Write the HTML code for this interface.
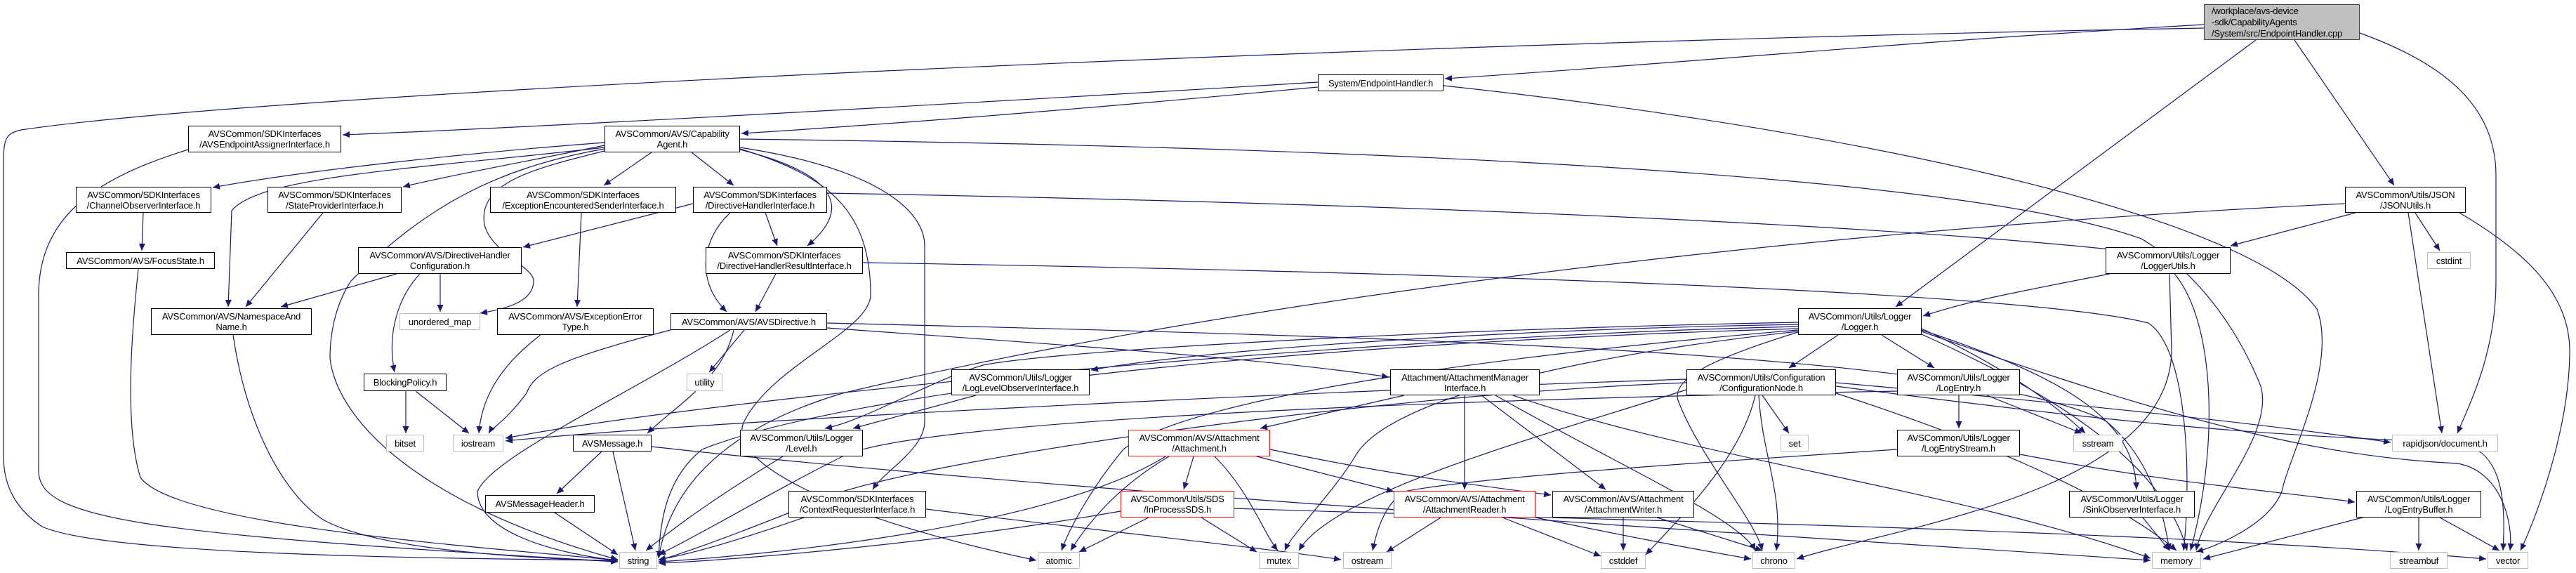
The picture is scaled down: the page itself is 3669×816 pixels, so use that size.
<!DOCTYPE html>
<html><head><meta charset="utf-8">
<style>
html,body{margin:0;padding:0;background:#fff;}
#c{position:relative;width:3669px;height:816px;overflow:hidden;background:#fff;}
svg{position:absolute;left:0;top:0;}
.n{position:absolute;box-sizing:border-box;background:#fff;border:1.4px solid #000;display:flex;align-items:center;justify-content:center;text-align:center;font-family:"Liberation Sans",sans-serif;font-size:13px;line-height:15px;color:#000;white-space:nowrap;letter-spacing:-0.2px;}
.g{border-color:#bfbfbf;}
.r{border-color:#ff0000;}
.m{background:#bfbfbf;border-color:#404040;text-align:left;justify-content:flex-start;padding-left:10px;line-height:16px;}
</style></head><body><div id="c">
<svg width="3669" height="816" viewBox="0 0 3669 816">
<defs><marker id="a" markerUnits="userSpaceOnUse" markerWidth="11" markerHeight="9" refX="10" refY="4.5" orient="auto"><path d="M0,0 L10,4.5 L0,9 z" fill="#191970"/></marker></defs>
<g fill="none" stroke="#191970" stroke-width="1.2" marker-end="url(#a)">
<path d="M3139,35 C2700,60 2400,90 2058,112"/>
<path d="M3139,40 C2000,60 400,130 30,185 C10,190 5,195 5,230 L5,650 C5,700 30,730 60,750 C150,790 600,795 880,798"/>
<path d="M3213,57 L2700,437"/>
<path d="M3268,57 L3410,264"/>
<path d="M3361,47 C3480,90 3555,150 3555,250 L3555,400 C3555,500 3520,570 3500,617"/>
<path d="M1877,117 C1500,140 800,180 488,192"/>
<path d="M1877,124 C1600,150 1300,175 1056,190"/>
<path d="M2056,122 C2600,180 3200,300 3300,440 C3330,520 3260,650 3250,700 C3230,750 3150,780 3128,786"/>
<path d="M268,213 C150,250 55,300 55,420 L55,670 C55,740 200,760 880,800"/>
<path d="M861,203 C700,215 450,240 303,267"/>
<path d="M861,207 C750,230 640,250 574,266"/>
<path d="M928,217 L860,264"/>
<path d="M985,217 L1045,264"/>
<path d="M1054,213 C1200,250 1210,300 1150,350"/>
<path d="M861,210 C600,240 370,250 330,300 L325,437"/>
<path d="M861,212 C700,240 600,300 500,400 C480,430 470,470 470,510 C480,600 600,720 880,797"/>
<path d="M861,215 C760,240 680,260 690,320 C700,360 760,380 760,400 C760,430 720,440 684,446"/>
<path d="M1054,210 C1250,240 1317,300 1317,350 L1317,600 C1317,640 1260,670 1243,697"/>
<path d="M1054,212 C1180,250 1240,300 1240,420 C1240,470 1100,520 1060,600 C1030,660 1200,740 1476,798"/>
<path d="M1054,198 C2000,210 2800,250 3050,340 C3150,400 3200,500 3220,550 C3240,620 3140,720 3128,784"/>
<path d="M987,290 L745,352"/>
<path d="M1090,303 L1107,350"/>
<path d="M1040,303 C1000,340 990,400 1035,444"/>
<path d="M1178,275 C2000,290 2700,320 3050,360 C3150,380 3170,600 3120,784"/>
<path d="M1105,390 L1076,444"/>
<path d="M1229,374 C2200,390 2900,420 3060,460 C3120,500 3120,700 3110,784"/>
<path d="M565,390 L400,437"/>
<path d="M627,390 L627,444"/>
<path d="M598,390 C570,420 550,470 562,530"/>
<path d="M828,303 L822,437"/>
<path d="M460,303 L350,437"/>
<path d="M204,303 L202,357"/>
<path d="M197,383 C190,450 175,600 200,680 C250,750 700,780 880,798"/>
<path d="M332,477 C350,600 400,700 460,740 C550,790 800,795 880,800"/>
<path d="M770,477 C700,530 685,580 682,617"/>
<path d="M578,557 L578,617"/>
<path d="M592,557 L668,617"/>
<path d="M955,470 C800,510 760,530 750,560 C720,600 700,610 696,617"/>
<path d="M1045,470 C1030,540 960,580 922,617"/>
<path d="M1060,470 L1010,530"/>
<path d="M1040,470 C900,560 700,650 680,700 C680,760 800,790 880,798"/>
<path d="M1178,467 C1500,490 1800,510 1978,537"/>
<path d="M1178,460 C2000,480 2800,500 3000,600 C3060,650 3080,720 3090,784"/>
<path d="M857,643 L793,703"/>
<path d="M873,643 L905,784"/>
<path d="M928,636 C1500,700 2500,760 3063,798"/>
<path d="M790,730 L880,790"/>
<path d="M2618,477 L2548,524"/>
<path d="M2680,477 L2755,524"/>
<path d="M2561,462 C2100,470 1700,500 1554,527"/>
<path d="M2561,459 C2000,470 1500,500 1400,520 C1330,540 1230,600 1175,610"/>
<path d="M2561,465 C1900,480 1000,570 720,624"/>
<path d="M2561,468 C1800,490 1200,560 1000,640 C950,680 940,740 938,795"/>
<path d="M2561,470 C2200,500 1700,560 1600,640 C1550,700 1520,760 1512,784"/>
<path d="M2561,472 C2300,500 1980,560 1930,650 C1900,700 1840,760 1830,784"/>
<path d="M2561,473 C2440,510 2380,540 2390,570 C2420,650 2500,740 2510,784"/>
<path d="M2737,468 C2850,520 2920,570 2970,617"/>
<path d="M2737,470 C2950,540 3040,600 3043,697"/>
<path d="M2737,472 C3100,600 3300,650 3500,660 C3560,670 3580,740 3575,784"/>
<path d="M2737,476 C2900,550 3080,650 3115,784"/>
<path d="M3005,390 C2850,420 2800,430 2739,450"/>
<path d="M3090,390 L3093,500 C3090,700 2700,750 2559,796"/>
<path d="M3355,303 L3177,350"/>
<path d="M3440,303 L3475,357"/>
<path d="M3430,303 L3478,617"/>
<path d="M3503,303 C3600,360 3660,420 3660,500 C3660,600 3620,720 3590,784"/>
<path d="M3340,290 C2500,330 1700,440 1200,560 C1000,620 950,720 938,795"/>
<path d="M2510,563 L2548,617"/>
<path d="M2505,563 C2510,650 2540,700 2530,784"/>
<path d="M2500,563 C2480,650 2400,730 2344,790"/>
<path d="M2402,555 C2200,620 1900,700 1850,784"/>
<path d="M2402,545 C2000,560 1400,640 1200,700 C1100,740 1000,780 938,798"/>
<path d="M2402,540 C1800,560 1000,600 720,628"/>
<path d="M2615,560 C2800,620 3000,700 3100,784"/>
<path d="M2615,545 C2900,570 3200,600 3405,630"/>
<path d="M2615,550 C3000,600 3200,620 3500,630 C3560,640 3570,700 3565,784"/>
<path d="M2790,563 L2790,610"/>
<path d="M2830,563 L2965,617"/>
<path d="M2702,557 C2000,570 1300,600 1200,650 C1100,700 1000,760 938,790"/>
<path d="M2877,647 C3100,690 3250,700 3354,715"/>
<path d="M2702,640 C2400,660 2100,680 2000,700 C1970,720 1960,760 1955,784"/>
<path d="M3365,737 L3138,796"/>
<path d="M3445,737 L3445,784"/>
<path d="M3475,737 L3560,784"/>
<path d="M3052,737 L3090,784"/>
<path d="M1390,563 L1215,610"/>
<path d="M1115,650 C1000,720 950,760 920,784"/>
<path d="M2000,563 L1795,610"/>
<path d="M2086,563 L2086,697"/>
<path d="M2110,563 L2287,697"/>
<path d="M2130,563 C2300,660 2480,740 2500,784"/>
<path d="M2155,563 C2400,650 2800,700 3063,795"/>
<path d="M1700,650 L1686,697"/>
<path d="M1790,650 L1985,700"/>
<path d="M1809,640 C2000,680 2100,690 2209,705"/>
<path d="M1730,650 C1780,700 1800,760 1820,784"/>
<path d="M1665,650 C1580,700 1540,760 1525,784"/>
<path d="M1660,650 C1500,750 1100,790 938,800"/>
<path d="M1636,737 L1537,786"/>
<path d="M1711,737 L1790,786"/>
<path d="M1596,728 C1300,780 1000,800 938,802"/>
<path d="M1758,724 C2200,740 3000,750 3541,796"/>
<path d="M2140,737 L2280,792"/>
<path d="M2187,737 C2300,760 2400,780 2494,796"/>
<path d="M2052,737 L1975,786"/>
<path d="M2312,737 L2312,784"/>
<path d="M2360,737 L2510,784"/>
<path d="M1145,737 C1050,770 980,790 938,797"/>
<path d="M1319,725 C1600,760 1800,780 1910,797"/>
</g>
</svg>
<div class="n m" style="left:3139px;top:6px;width:222px;height:51px;">/workplace/avs-device<br>-sdk/CapabilityAgents<br>/System/src/EndpointHandler.cpp</div>
<div class="n" style="left:1877px;top:106px;width:179px;height:24px;">System/EndpointHandler.h</div>
<div class="n" style="left:268px;top:179px;width:218px;height:38px;">AVSCommon/SDKInterfaces<br>/AVSEndpointAssignerInterface.h</div>
<div class="n" style="left:861px;top:179px;width:193px;height:38px;">AVSCommon/AVS/Capability<br>Agent.h</div>
<div class="n" style="left:108px;top:266px;width:193px;height:37px;">AVSCommon/SDKInterfaces<br>/ChannelObserverInterface.h</div>
<div class="n" style="left:381px;top:266px;width:191px;height:37px;">AVSCommon/SDKInterfaces<br>/StateProviderInterface.h</div>
<div class="n" style="left:698px;top:266px;width:265px;height:37px;">AVSCommon/SDKInterfaces<br>/ExceptionEncounteredSenderInterface.h</div>
<div class="n" style="left:987px;top:266px;width:191px;height:37px;">AVSCommon/SDKInterfaces<br>/DirectiveHandlerInterface.h</div>
<div class="n" style="left:3340px;top:266px;width:172px;height:37px;">AVSCommon/Utils/JSON<br>/JSONUtils.h</div>
<div class="n" style="left:94px;top:359px;width:212px;height:24px;">AVSCommon/AVS/FocusState.h</div>
<div class="n" style="left:510px;top:352px;width:233px;height:38px;">AVSCommon/AVS/DirectiveHandler<br>Configuration.h</div>
<div class="n" style="left:1005px;top:352px;width:224px;height:38px;">AVSCommon/SDKInterfaces<br>/DirectiveHandlerResultInterface.h</div>
<div class="n" style="left:2999px;top:352px;width:178px;height:38px;">AVSCommon/Utils/Logger<br>/LoggerUtils.h</div>
<div class="n g" style="left:3457px;top:359px;width:62px;height:24px;">cstdint</div>
<div class="n" style="left:215px;top:439px;width:229px;height:38px;">AVSCommon/AVS/NamespaceAnd<br>Name.h</div>
<div class="n g" style="left:569px;top:446px;width:115px;height:24px;">unordered_map</div>
<div class="n" style="left:708px;top:439px;width:223px;height:38px;">AVSCommon/AVS/ExceptionError<br>Type.h</div>
<div class="n" style="left:955px;top:446px;width:223px;height:24px;">AVSCommon/AVS/AVSDirective.h</div>
<div class="n" style="left:2561px;top:439px;width:176px;height:38px;">AVSCommon/Utils/Logger<br>/Logger.h</div>
<div class="n" style="left:518px;top:532px;width:118px;height:25px;">BlockingPolicy.h</div>
<div class="n g" style="left:978px;top:532px;width:51px;height:25px;">utility</div>
<div class="n" style="left:1355px;top:526px;width:197px;height:37px;">AVSCommon/Utils/Logger<br>/LogLevelObserverInterface.h</div>
<div class="n" style="left:1980px;top:526px;width:213px;height:37px;">Attachment/AttachmentManager<br>Interface.h</div>
<div class="n" style="left:2402px;top:526px;width:213px;height:37px;">AVSCommon/Utils/Configuration<br>/ConfigurationNode.h</div>
<div class="n" style="left:2702px;top:526px;width:175px;height:37px;">AVSCommon/Utils/Logger<br>/LogEntry.h</div>
<div class="n g" style="left:550px;top:619px;width:54px;height:24px;">bitset</div>
<div class="n g" style="left:645px;top:619px;width:72px;height:24px;">iostream</div>
<div class="n" style="left:816px;top:619px;width:112px;height:24px;">AVSMessage.h</div>
<div class="n" style="left:1054px;top:612px;width:175px;height:38px;">AVSCommon/Utils/Logger<br>/Level.h</div>
<div class="n r" style="left:1607px;top:612px;width:202px;height:38px;">AVSCommon/AVS/Attachment<br>/Attachment.h</div>
<div class="n g" style="left:2536px;top:619px;width:40px;height:24px;">set</div>
<div class="n" style="left:2702px;top:612px;width:175px;height:38px;">AVSCommon/Utils/Logger<br>/LogEntryStream.h</div>
<div class="n g" style="left:2953px;top:619px;width:70px;height:24px;">sstream</div>
<div class="n g" style="left:3407px;top:619px;width:151px;height:24px;">rapidjson/document.h</div>
<div class="n" style="left:691px;top:705px;width:156px;height:25px;">AVSMessageHeader.h</div>
<div class="n" style="left:1123px;top:699px;width:196px;height:38px;">AVSCommon/SDKInterfaces<br>/ContextRequesterInterface.h</div>
<div class="n r" style="left:1596px;top:699px;width:162px;height:38px;">AVSCommon/Utils/SDS<br>/InProcessSDS.h</div>
<div class="n r" style="left:1985px;top:699px;width:202px;height:38px;">AVSCommon/AVS/Attachment<br>/AttachmentReader.h</div>
<div class="n" style="left:2211px;top:699px;width:202px;height:38px;">AVSCommon/AVS/Attachment<br>/AttachmentWriter.h</div>
<div class="n" style="left:2947px;top:699px;width:179px;height:38px;">AVSCommon/Utils/Logger<br>/SinkObserverInterface.h</div>
<div class="n" style="left:3356px;top:699px;width:178px;height:38px;">AVSCommon/Utils/Logger<br>/LogEntryBuffer.h</div>
<div class="n g" style="left:882px;top:786px;width:54px;height:24px;">string</div>
<div class="n g" style="left:1478px;top:786px;width:60px;height:24px;">atomic</div>
<div class="n g" style="left:1793px;top:786px;width:57px;height:24px;">mutex</div>
<div class="n g" style="left:1913px;top:786px;width:69px;height:24px;">ostream</div>
<div class="n g" style="left:2280px;top:786px;width:64px;height:24px;">cstddef</div>
<div class="n g" style="left:2496px;top:786px;width:61px;height:24px;">chrono</div>
<div class="n g" style="left:3065px;top:786px;width:70px;height:24px;">memory</div>
<div class="n g" style="left:3404px;top:786px;width:82px;height:24px;">streambuf</div>
<div class="n g" style="left:3543px;top:786px;width:58px;height:24px;">vector</div>
</div></body></html>
